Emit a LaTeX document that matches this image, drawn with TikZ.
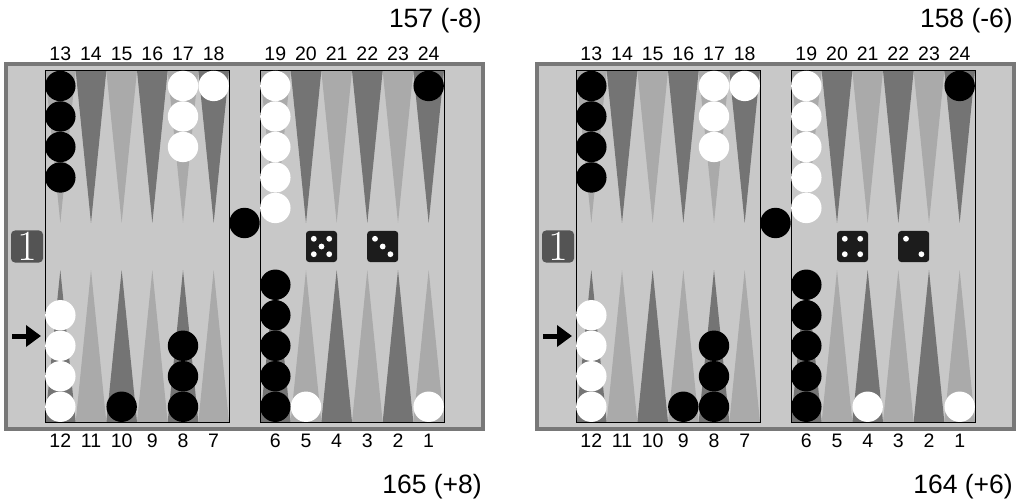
\documentclass[tikz,border=0pt]{standalone}
\usepackage{fontspec}
\newfontfamily\labfont{Liberation Sans}
\usetikzlibrary{arrows.meta}
\definecolor{frameD}{gray}{0.47}
\definecolor{frameL}{gray}{0.785}
\definecolor{ptDark}{gray}{0.455}
\definecolor{ptLight}{gray}{0.665}
\definecolor{dieC}{gray}{0.11}
\definecolor{cubeC}{gray}{0.33}
\tikzset{
  ptlab/.style={font=\labfont\fontsize{19.5}{19.5}\selectfont, anchor=base, inner sep=0pt},
  score/.style={font=\labfont\fontsize{26.5}{26.5}\selectfont, anchor=base east, inner sep=0pt},
  cubebox/.style={fill=cubeC, rounded corners=4pt, minimum size=32pt, inner sep=0pt, text=white, font=\fontsize{43}{43}\selectfont},
  diebox/.style={fill=dieC, rounded corners=3pt, minimum size=31pt, inner sep=0pt},
  pip/.style={fill=white},
  edgeline/.style={draw=black, line width=0.9pt},
  movearrow/.style={line width=5pt, -{Triangle[length=15pt,width=21pt]}},
}
\newcommand\topstack[3]{%
  \pgfmathsetmacro\px{#1<19 ? 45+30.667*(#1-13+0.5) : 260+30.667*(#1-19+0.5)}%
  \foreach \k in {1,...,#3}{\fill[#2] (\px, 70.7+30.5*\k-15.25) circle (15.2pt);}%
}
\newcommand\botstack[3]{%
  \pgfmathsetmacro\px{#1>6 ? 45+30.667*(12-#1+0.5) : 260+30.667*(6-#1+0.5)}%
  \foreach \k in {1,...,#3}{\fill[#2] (\px, 422-30.5*\k+15.25) circle (15.2pt);}%
}
\newcommand\die[3]{%
  \node[diebox] (#1) at (#2,246.5) {};
  \foreach \a/\b in {#3}{\fill[pip] ([shift={(\a,\b)}]#1.center) circle (2.9pt);}%
}
\newcommand\boardbase[1]{%
  \fill[frameD] (4,62) rectangle (485,431);
  \fill[frameL] (8,66.5) rectangle (481,427);
  \foreach \xo in {45,260}{
    \foreach \i in {0,2,4}{
      \fill[ptLight] (\xo+30.667*\i,70.7) -- (\xo+30.667*\i+30.667,70.7) -- (\xo+30.667*\i+15.333,223) -- cycle;
      \fill[ptDark] (\xo+30.667*\i,422) -- (\xo+30.667*\i+30.667,422) -- (\xo+30.667*\i+15.333,270) -- cycle;
    }
    \foreach \i in {1,3,5}{
      \fill[ptDark] (\xo+30.667*\i,70.7) -- (\xo+30.667*\i+30.667,70.7) -- (\xo+30.667*\i+15.333,223) -- cycle;
      \fill[ptLight] (\xo+30.667*\i,422) -- (\xo+30.667*\i+30.667,422) -- (\xo+30.667*\i+15.333,270) -- cycle;
    }
  }
  \draw[edgeline] (45,70.7) rectangle (229,422);
  \draw[edgeline] (260,70.7) rectangle (444,422);
  \foreach \p [count=\i from 0] in {13,...,18}{\node[ptlab] (#1t\p) at (60.333+30.667*\i,61) {\p};}
  \foreach \p [count=\i from 0] in {19,...,24}{\node[ptlab] (#1t\p) at (275.333+30.667*\i,61) {\p};}
  \foreach \p [count=\i from 0] in {12,11,10,9,8,7}{\node[ptlab] (#1b\p) at (60.333+30.667*\i,447) {\p};}
  \foreach \p [count=\i from 0] in {6,5,4,3,2,1}{\node[ptlab] (#1b\p) at (275.333+30.667*\i,447) {\p};}
  \node[cubebox] (#1cube) at (27,246.5) {1};
  \coordinate (#1aS) at (12,336);
  \coordinate (#1aE) at (41,336);
  \draw[movearrow] (#1aS) -- (#1aE);
  \fill[black] (244.5,223) circle (15.2pt);
  \topstack{13}{black}{4}
  \topstack{17}{white}{3}
  \topstack{18}{white}{1}
  \topstack{19}{white}{5}
  \topstack{24}{black}{1}
  \botstack{12}{white}{4}
  \botstack{8}{black}{3}
  \botstack{6}{black}{5}
  \botstack{1}{white}{1}
}
\begin{document}
\begin{tikzpicture}[x=1pt,y=-1pt]
\useasboundingbox (0,0) rectangle (1021,500);
\fill[white] (0,0) rectangle (1021,500);
% left board
\boardbase{L}
\botstack{10}{black}{1}
\botstack{5}{white}{1}
\die{Ld1}{321.5}{-7.7/-7.7, 7.7/-7.7, 0/0, -7.7/7.7, 7.7/7.7}
\die{Ld2}{382.7}{-7.7/-7.7, 0/0, 7.7/7.7}
\node[score] (Lst) at (482,28) {157 (-8)};
\node[score] (Lsb) at (482,493) {165 (+8)};
% right board
\begin{scope}[shift={(531,0)}]
\boardbase{R}
\botstack{9}{black}{1}
\botstack{4}{white}{1}
\die{Rd1}{321.5}{-7.7/-7.7, 7.7/-7.7, -7.7/7.7, 7.7/7.7}
\die{Rd2}{382.7}{-7.7/-7.7, 7.7/7.7}
\node[score] (Rst) at (482,28) {158 (-6)};
\node[score] (Rsb) at (482,493) {164 (+6)};
\end{scope}
\end{tikzpicture}
\end{document}
